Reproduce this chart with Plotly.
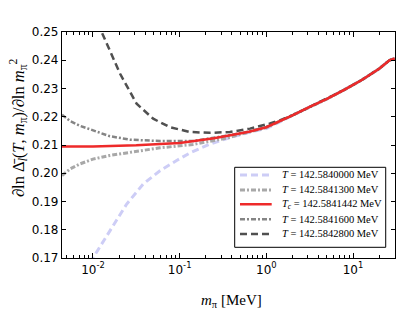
import plotly.graph_objects as go

# ---- data (m_pi in MeV, derivative values) ----
m_red = [0.0044, 0.01, 0.0316, 0.1, 0.25, 0.4, 0.63, 1.0, 1.45, 2.0, 3.16, 5.0, 7.9, 12.6, 20.0, 26.3, 30.2]
v_red = [0.2095, 0.2095, 0.2099, 0.2107, 0.2124, 0.2135, 0.2147, 0.2163, 0.2185, 0.2205, 0.2235, 0.2263, 0.2295, 0.2330, 0.2370, 0.2400, 0.2406]

m_t428 = [0.0044, 0.0075, 0.0126, 0.0205, 0.0319, 0.0495, 0.0773, 0.1315, 0.223, 0.38, 0.647, 1.1, 1.45, 2.0, 3.16, 5.0, 7.9, 12.6, 20.0, 26.3, 30.2]
v_t428 = [0.290, 0.270, 0.250, 0.2353, 0.2246, 0.2193, 0.2163, 0.2146, 0.2143, 0.2146, 0.2158, 0.2176, 0.2188, 0.2205, 0.2235, 0.2263, 0.2295, 0.2330, 0.2370, 0.2400, 0.2406]

m_t416 = [0.0044, 0.00543, 0.00708, 0.01, 0.0157, 0.0267, 0.0593, 0.142, 0.29, 0.4, 0.63, 1.0, 1.45, 2.0, 3.16, 5.0, 7.9, 12.6, 20.0, 26.3, 30.2]
v_t416 = [0.2207, 0.2185, 0.2168, 0.2153, 0.2131, 0.2119, 0.2114, 0.2114, 0.2128, 0.2136, 0.2148, 0.2164, 0.2185, 0.2205, 0.2235, 0.2263, 0.2295, 0.2330, 0.2370, 0.2400, 0.2406]

m_t413 = [0.0044, 0.00543, 0.00708, 0.01, 0.0157, 0.0267, 0.0593, 0.142, 0.35, 0.5, 0.63, 1.0, 1.45, 2.0, 3.16, 5.0, 7.9, 12.6, 20.0, 26.3, 30.2]
v_t413 = [0.1992, 0.2015, 0.2033, 0.2050, 0.2063, 0.2074, 0.2090, 0.2102, 0.2124, 0.2138, 0.2146, 0.2162, 0.2185, 0.2205, 0.2235, 0.2263, 0.2295, 0.2330, 0.2370, 0.2400, 0.2406]

m_t400 = [0.0079, 0.01, 0.0157, 0.0245, 0.038, 0.0593, 0.0923, 0.1315, 0.223, 0.38, 0.647, 1.0, 1.45, 2.0, 3.16, 5.0, 7.9, 12.6, 20.0, 26.3, 30.2]
v_t400 = [0.165, 0.170, 0.1796, 0.1891, 0.1962, 0.2009, 0.2045, 0.2072, 0.2103, 0.2126, 0.2146, 0.2158, 0.2183, 0.2205, 0.2235, 0.2263, 0.2295, 0.2330, 0.2370, 0.2400, 0.2406]

x_tickvals = [0.01, 0.1, 1, 10]
x_ticktext = ["10<sup>-2</sup>", "10<sup>-1</sup>", "10<sup>0</sup>", "10<sup>1</sup>"]

labels = [
    "<i>T</i> = 142.5840000 MeV",
    "<i>T</i> = 142.5841300 MeV",
    "<i>T</i><sub><i>c</i></sub> = 142.5841442 MeV",
    "<i>T</i> = 142.5841600 MeV",
    "<i>T</i> = 142.5842800 MeV",
]

styles = [
    dict(color="#cdcdf6", width=3, dash="7px,4px"),
    dict(color="#a8a8a8", width=3, dash="5px,2px,2px,2px"),
    dict(color="#ee2a2a", width=2.5),
    dict(color="#858585", width=2.5, dash="5px,2px,2px,2px"),
    dict(color="#505050", width=2.5, dash="7px,4px"),
]

series = [(m_t400, v_t400, 0), (m_t413, v_t413, 1), (m_t416, v_t416, 3), (m_t428, v_t428, 4), (m_red, v_red, 2)]

fig = go.Figure()
for xs, ys, k in series:
    fig.add_trace(go.Scatter(x=xs, y=ys, mode="lines", name=labels[k], showlegend=False,
                             line=styles[k]))

axis_common = dict(showline=True, linecolor="black", linewidth=1.2, mirror="allticks",
                   ticks="inside", tickcolor="black", showgrid=False, zeroline=False,
                   tickfont=dict(family="DejaVu Sans", size=12, color="black"))

fig.update_xaxes(type="log", range=[-2.357, 1.484], tickmode="array",
                 tickvals=x_tickvals, ticktext=x_ticktext,
                 ticklen=5, minor=dict(ticks="inside", ticklen=2.5, dtick="D1", tickcolor="black", showgrid=False),
                 **axis_common)
fig.update_yaxes(range=[0.17, 0.25], dtick=0.01, tickformat=".2f", ticklen=4, **axis_common)

fig.add_annotation(xref="paper", yref="paper", x=-0.132, y=0.575, xanchor="center", yanchor="middle",
                   textangle=-90, showarrow=False,
                   text="∂ln Δ̄<sub><i>l</i></sub>(<i>T</i>, <i>m</i><sub>π</sub>)/∂ln <i>m</i><sub>π</sub><sup>2</sup>",
                   font=dict(family="Liberation Serif", size=16.5, color="black"))
fig.add_annotation(xref="paper", yref="paper", x=0.51, y=-0.19, xanchor="center", yanchor="middle",
                   showarrow=False, text="<i>m</i><sub>π</sub> [MeV]",
                   font=dict(family="Liberation Serif", size=15, color="black"))

# ---- legend box (matplotlib-style, compact) ----
fig.add_shape(type="rect", xref="paper", yref="paper", x0=0.5186, x1=0.9721, y0=0.0473, y1=0.4013,
              fillcolor="white", line=dict(color="black", width=1))
row_y = [0.3673, 0.3009, 0.2376, 0.1712, 0.1062]
for k, yy in enumerate(row_y):
    fig.add_shape(type="line", xref="paper", yref="paper", x0=0.5345, x1=0.6297, y0=yy, y1=yy,
                  line=styles[k])
    fig.add_annotation(xref="paper", yref="paper", x=0.6547, y=yy, xanchor="left", yanchor="middle",
                       showarrow=False, text=labels[k],
                       font=dict(family="Liberation Serif", size=10.5, color="black"))

fig.update_layout(
    width=415, height=323,
    margin=dict(l=54, r=28, t=24, b=73),
    paper_bgcolor="white", plot_bgcolor="white",
    showlegend=False,
)

fig.write_html("out.html")
